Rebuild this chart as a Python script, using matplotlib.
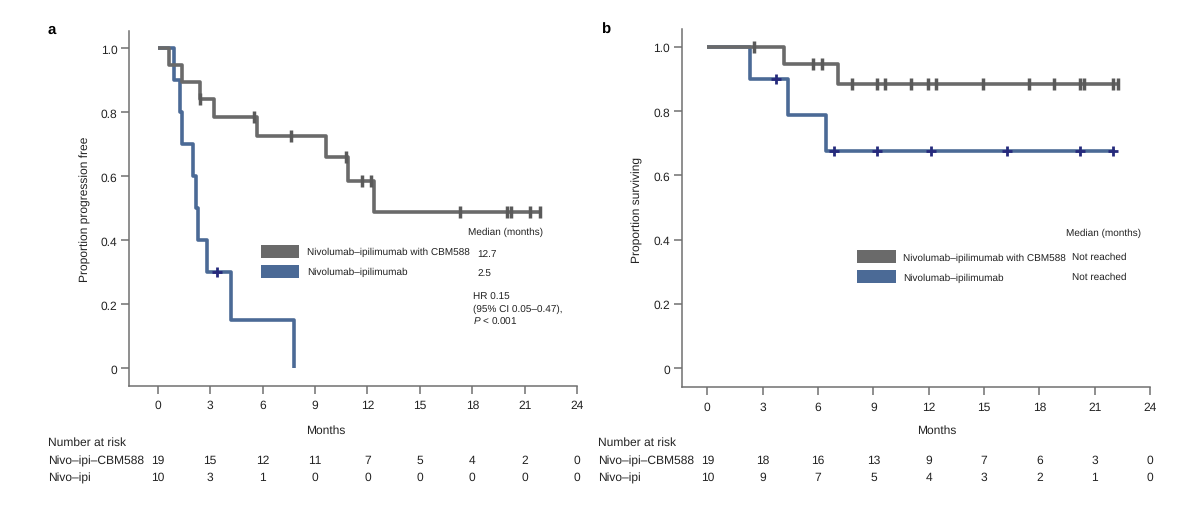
import numpy as np
import matplotlib
matplotlib.use("Agg")
import matplotlib.pyplot as plt
from matplotlib.patches import Rectangle
from matplotlib import transforms

plt.rcParams['font.family'] = ['Liberation Sans', 'DejaVu Sans']
plt.rcParams['mathtext.fontset'] = 'custom'
plt.rcParams['mathtext.rm'] = 'Liberation Sans'
plt.rcParams['mathtext.it'] = 'Liberation Sans:italic'
plt.rcParams['text.hinting'] = 'no_hinting'
plt.rcParams['text.hinting_factor'] = 1

# panel a: progression free survival
a_cbm_t = [0, 0.65, 1.4, 2.4, 3.2, 5.7, 9.6, 10.9, 12.4, 22.0]
a_cbm_s = [1.0, 0.947, 0.895, 0.842, 0.786, 0.725, 0.659, 0.586, 0.488, 0.488]
a_cbm_cens = [2.4, 5.5, 7.6, 10.8, 11.7, 12.2, 17.3, 20.0, 20.2, 21.3, 21.9]
a_ipi_t = [0, 0.9, 1.3, 1.4, 2.0, 2.2, 2.3, 2.8, 4.2, 7.8]
a_ipi_s = [1.0, 0.9, 0.8, 0.7, 0.6, 0.5, 0.4, 0.3, 0.15, 0.0]
a_ipi_cens = [3.4]

# panel b: overall survival
b_cbm_t = [0, 4.15, 7.1, 22.35]
b_cbm_s = [1.0, 0.947, 0.885, 0.885]
b_cbm_cens = [2.55, 5.75, 6.2, 7.85, 9.2, 9.65, 11.05, 11.95, 12.4, 14.95,
              17.45, 18.8, 20.2, 20.4, 22.0, 22.25]
b_ipi_t = [0, 2.3, 4.35, 6.45, 22.1]
b_ipi_s = [1.0, 0.9, 0.7875, 0.675, 0.675]
b_ipi_cens = [3.7, 6.85, 9.2, 12.15, 16.25, 20.2, 22.0]

risk_months = [0, 3, 6, 9, 12, 15, 18, 21, 24]
a_risk_cbm = [19, 15, 12, 11, 7, 5, 4, 2, 0]
a_risk_ipi = [10, 3, 1, 0, 0, 0, 0, 0, 0]
b_risk_cbm = [19, 18, 16, 13, 9, 7, 6, 3, 0]
b_risk_ipi = [10, 9, 7, 5, 4, 3, 2, 1, 0]

label_cbm = 'Nivolumab–ipilimumab with CBM588'
label_ipi = 'Nivolumab–ipilimumab'

GRAY = '#6a6a6a'
BLUE = '#4b6a96'
GRAY_MARK = '#5a5a5a'
BLUE_MARK = '#262a7c'
AXC = '#707070'
TXT = '#222222'
LEG_FS = 7.1

W, H = 1200, 510


def fx(px):
    return px / W


def fy(py):
    return 1 - py / H


def surv_at(times, surv, c):
    i = np.searchsorted(times, c, side='right') - 1
    return surv[i]


def km(ax, t, s, cens, color, mcolor, marker, ms, mew):
    ax.step(t, s, where='post', color=color, lw=2.6, solid_capstyle='butt',
            zorder=3)
    cy = [surv_at(t, s, c) for c in cens]
    ax.plot(cens, cy, linestyle='none', marker=marker, ms=ms, mew=mew,
            color=mcolor, zorder=4)


def style(ax, xlim, ylim):
    ax.set_xlim(*xlim)
    ax.set_ylim(*ylim)
    ax.set_xticks(risk_months)
    ax.set_yticks([0, 0.2, 0.4, 0.6, 0.8, 1.0])
    ax.set_yticklabels(['0', '0.2', '0.4', '0.6', '0.8', '1.0'])
    for sp in ['top', 'right']:
        ax.spines[sp].set_visible(False)
    for sp in ['left', 'bottom']:
        ax.spines[sp].set_color(AXC)
        ax.spines[sp].set_linewidth(1.1)
    ax.spines['bottom'].set_bounds(xlim[0], 24)
    ax.tick_params(direction='out', length=6, width=1.1, color=AXC,
                   labelsize=8.5, labelcolor=TXT)
    ax.tick_params(axis='x', pad=4)
    ax.tick_params(axis='y', pad=2.5)


def risk_table(ax, x_label_px, cbm, ipi):
    tr = transforms.blended_transform_factory(ax.transData, fig.transFigure)
    fig.text(fx(x_label_px), fy(443), 'Number at risk', fontsize=8.5,
             color=TXT, va='center')
    fig.text(fx(x_label_px), fy(461), 'Nivo–ipi–CBM588', fontsize=8.5,
             color=TXT, va='center')
    fig.text(fx(x_label_px), fy(478), 'Nivo–ipi', fontsize=8.5,
             color=TXT, va='center')
    for m, n1, n2 in zip(risk_months, cbm, ipi):
        ax.text(m, fy(461), str(n1), transform=tr, ha='center', va='center',
                fontsize=8.5, color=TXT, clip_on=False)
        ax.text(m, fy(478), str(n2), transform=tr, ha='center', va='center',
                fontsize=8.5, color=TXT, clip_on=False)


def legend_box(x0, x1, y0, y1, color):
    fig.patches.append(Rectangle((fx(x0), fy(y1)), fx(x1) - fx(x0),
                                 fy(y0) - fy(y1), transform=fig.transFigure,
                                 facecolor=color, edgecolor='none'))


fig = plt.figure(figsize=(12, 5.1), dpi=100)
ax_a = fig.add_axes([fx(129.3), fy(386.7), fx(578) - fx(129.3), fy(32) - fy(386.7)])
ax_b = fig.add_axes([fx(681.7), fy(388), fx(1151) - fx(681.7), fy(30) - fy(388)])

# panel a
km(ax_a, a_ipi_t, a_ipi_s, a_ipi_cens, BLUE, BLUE_MARK, '+', 7, 2)
km(ax_a, a_cbm_t, a_cbm_s, a_cbm_cens, GRAY, GRAY_MARK, '|', 8.5, 2.5)
style(ax_a, (-1.63, 24.05), (-0.054, 1.054))
fig.text(fx(85), fy(209), 'Proportion progression free', rotation=90,
         fontsize=8.5, color=TXT, ha='center', va='center')
fig.text(fx(326), fy(431), 'Months', fontsize=8.5, color=TXT,
         ha='center', va='center')
risk_table(ax_a, 48, a_risk_cbm, a_risk_ipi)
fig.text(fx(52), fy(30), 'a', fontsize=11, fontweight='bold', ha='center',
         va='center')

legend_box(261, 299, 246, 259, GRAY)
legend_box(261, 299, 266, 279, BLUE)
fig.text(fx(307), fy(252), label_cbm, fontsize=LEG_FS, color=TXT, va='center')
fig.text(fx(307), fy(272), label_ipi, fontsize=LEG_FS, color=TXT, va='center')
fig.text(fx(468), fy(232), 'Median (months)', fontsize=LEG_FS, color=TXT,
         va='center')
fig.text(fx(477), fy(254), '12.7', fontsize=LEG_FS, color=TXT, va='center')
fig.text(fx(477), fy(274), '2.5', fontsize=LEG_FS, color=TXT, va='center')
fig.text(fx(473), fy(297), 'HR 0.15', fontsize=LEG_FS, color=TXT, va='center')
fig.text(fx(473), fy(309), '(95% CI 0.05–0.47),', fontsize=LEG_FS,
         color=TXT, va='center')
fig.text(fx(473), fy(321), '$P$ < 0.001', fontsize=LEG_FS, color=TXT,
         va='center')

# panel b
km(ax_b, b_ipi_t, b_ipi_s, b_ipi_cens, BLUE, BLUE_MARK, '+', 7, 2)
km(ax_b, b_cbm_t, b_cbm_s, b_cbm_cens, GRAY, GRAY_MARK, '|', 8.5, 2.5)
style(ax_b, (-1.39, 24.05), (-0.059, 1.056))
fig.text(fx(637), fy(210), 'Proportion surviving', rotation=90,
         fontsize=8.5, color=TXT, ha='center', va='center')
fig.text(fx(937), fy(431), 'Months', fontsize=8.5, color=TXT,
         ha='center', va='center')
risk_table(ax_b, 598, b_risk_cbm, b_risk_ipi)
fig.text(fx(606), fy(30), 'b', fontsize=11, fontweight='bold', ha='center',
         va='center')

legend_box(857, 896, 251, 264, GRAY)
legend_box(857, 896, 271, 284, BLUE)
fig.text(fx(903), fy(258), label_cbm, fontsize=LEG_FS, color=TXT, va='center')
fig.text(fx(903), fy(278), label_ipi, fontsize=LEG_FS, color=TXT, va='center')
fig.text(fx(1066), fy(233), 'Median (months)', fontsize=LEG_FS, color=TXT,
         va='center')
fig.text(fx(1072), fy(257), 'Not reached', fontsize=LEG_FS, color=TXT,
         va='center')
fig.text(fx(1072), fy(277), 'Not reached', fontsize=LEG_FS, color=TXT,
         va='center')

fig.savefig('out.png', dpi=100)
